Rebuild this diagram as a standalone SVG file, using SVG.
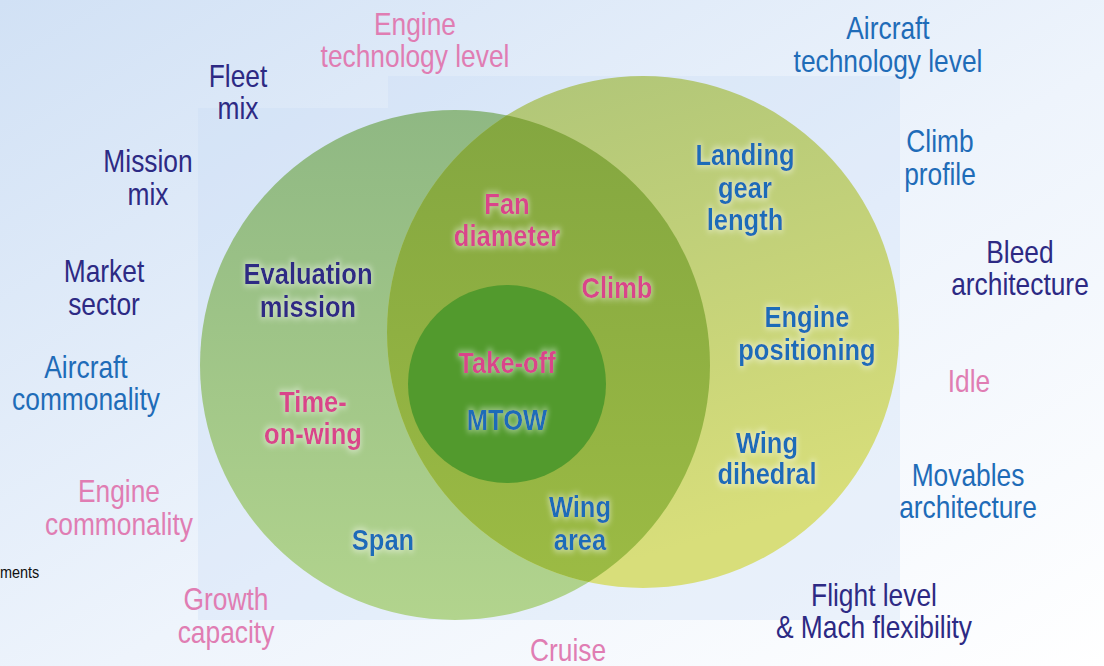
<svg xmlns="http://www.w3.org/2000/svg" width="1104" height="666" viewBox="0 0 1104 666">
  <style>
    .out { font-family: "Liberation Sans", Arial, sans-serif; font-size: 31px; text-anchor: middle; }
    .in { font-family: "Liberation Sans", Arial, sans-serif; font-size: 29px; font-weight: bold; text-anchor: middle; filter: url(#glow); }
    .navy { fill: #2d2a84; }
    .blue { fill: #1f6cb8; }
    .pink { fill: #e07db3; }
    .rose { fill: #d9448a; }
  </style>
  <defs>
    <linearGradient id="bg" x1="0" y1="0" x2="1" y2="1">
      <stop offset="0" stop-color="#d1e1f5"/>
      <stop offset="0.55" stop-color="#eef4fc"/>
      <stop offset="1" stop-color="#ffffff"/>
    </linearGradient>
    <linearGradient id="gLeft" x1="0" y1="0" x2="0" y2="1">
      <stop offset="0" stop-color="#8fb883"/>
      <stop offset="1" stop-color="#b2d48d"/>
    </linearGradient>
    <linearGradient id="gRight" x1="0" y1="0" x2="0.3" y2="1">
      <stop offset="0" stop-color="#adc478"/>
      <stop offset="1" stop-color="#d8de7a"/>
    </linearGradient>
    <linearGradient id="gBoth" x1="0" y1="0" x2="0" y2="1">
      <stop offset="0" stop-color="#82a540"/>
      <stop offset="1" stop-color="#9cbb44"/>
    </linearGradient>
    <clipPath id="clipLeft">
      <circle cx="455" cy="365" r="255"/>
    </clipPath>
    <filter id="glow" x="-20%" y="-40%" width="140%" height="180%">
      <feMorphology in="SourceAlpha" operator="dilate" radius="1.5" result="fat"/>
      <feGaussianBlur in="fat" stdDeviation="3" result="soft"/>
      <feFlood flood-color="#ffffff" flood-opacity="0.45"/>
      <feComposite in2="soft" operator="in" result="halo"/>
      <feMerge>
        <feMergeNode in="halo"/>
        <feMergeNode in="SourceGraphic"/>
      </feMerge>
    </filter>
  </defs>

  <!-- backdrop -->
  <rect width="1104" height="666" fill="url(#bg)"/>
  <path d="M198,108 H388 V76 H900 V620 H198 Z" fill="#c6dbf6" opacity="0.3"/>

  <!-- circles -->
  <g id="circle-left">
    <circle cx="455" cy="365" r="255" fill="url(#gLeft)"/>
  </g>
  <g id="circle-right">
    <circle cx="643" cy="332" r="256" fill="url(#gRight)"/>
  </g>
  <g id="overlap">
    <circle cx="643" cy="332" r="256" fill="url(#gBoth)" clip-path="url(#clipLeft)"/>
  </g>
  <g id="circle-core">
    <circle cx="507" cy="384" r="99" fill="#529a2d"/>
  </g>

  <!-- connectors: none in this figure -->
  <g id="connectors"/>

  <!-- outer factors (condensed horizontally about each label's centre) -->
  <g id="engine-technology" class="out pink" transform="matrix(0.85 0 0 1 62.25 0)"><text x="415" y="35">Engine</text><text x="415" y="67">technology level</text></g>
  <g id="aircraft-technology" class="out blue" transform="matrix(0.85 0 0 1 133.2 0)"><text x="888" y="39">Aircraft</text><text x="888" y="72">technology level</text></g>
  <g id="fleet-mix" class="out navy" transform="matrix(0.85 0 0 1 35.7 0)"><text x="238" y="87">Fleet</text><text x="238" y="119">mix</text></g>
  <g id="mission-mix" class="out navy" transform="matrix(0.85 0 0 1 22.2 0)"><text x="148" y="172">Mission</text><text x="148" y="205">mix</text></g>
  <g id="climb-profile" class="out blue" transform="matrix(0.85 0 0 1 141 0)"><text x="940" y="152">Climb</text><text x="940" y="185">profile</text></g>
  <g id="bleed-architecture" class="out navy" transform="matrix(0.85 0 0 1 153 0)"><text x="1020" y="263">Bleed</text><text x="1020" y="295">architecture</text></g>
  <g id="market-sector" class="out navy" transform="matrix(0.85 0 0 1 15.6 0)"><text x="104" y="282">Market</text><text x="104" y="315">sector</text></g>
  <g id="aircraft-commonality" class="out blue" transform="matrix(0.85 0 0 1 12.9 0)"><text x="86" y="378">Aircraft</text><text x="86" y="410">commonality</text></g>
  <g id="idle" class="out pink" transform="matrix(0.85 0 0 1 145.35 0)"><text x="969" y="392">Idle</text></g>
  <g id="engine-commonality" class="out pink" transform="matrix(0.85 0 0 1 17.85 0)"><text x="119" y="502">Engine</text><text x="119" y="535">commonality</text></g>
  <g id="requirements" transform="matrix(0.85 0 0 1 0 0)"><text x="0" y="578" font-family="Liberation Sans, Arial, sans-serif" font-size="17" fill="#111111">ments</text></g>
  <g id="growth-capacity" class="out pink" transform="matrix(0.85 0 0 1 33.9 0)"><text x="226" y="610">Growth</text><text x="226" y="643">capacity</text></g>
  <g id="cruise" class="out pink" transform="matrix(0.85 0 0 1 85.2 0)"><text x="568" y="661">Cruise</text></g>
  <g id="movables-architecture" class="out blue" transform="matrix(0.85 0 0 1 145.2 0)"><text x="968" y="486">Movables</text><text x="968" y="518">architecture</text></g>
  <g id="flight-level" class="out navy" transform="matrix(0.85 0 0 1 131.1 0)"><text x="874" y="606">Flight level</text><text x="874" y="638">&amp; Mach flexibility</text></g>

  <!-- inner design parameters -->
  <g id="evaluation-mission" class="in navy" transform="matrix(0.88 0 0 1 36.96 0)"><text x="308" y="284">Evaluation</text><text x="308" y="317">mission</text></g>
  <g id="time-on-wing" class="in rose" transform="matrix(0.88 0 0 1 37.56 0)"><text x="313" y="412">Time-</text><text x="313" y="444">on-wing</text></g>
  <g id="fan-diameter" class="in rose" transform="matrix(0.88 0 0 1 60.84 0)"><text x="507" y="214">Fan</text><text x="507" y="246">diameter</text></g>
  <g id="climb" class="in rose" transform="matrix(0.88 0 0 1 74.04 0)"><text x="617" y="298">Climb</text></g>
  <g id="take-off" class="in rose" transform="matrix(0.88 0 0 1 60.84 0)"><text x="507" y="373">Take-off</text></g>
  <g id="mtow" class="in blue" transform="matrix(0.88 0 0 1 60.84 0)"><text x="507" y="430">MTOW</text></g>
  <g id="landing-gear" class="in blue" transform="matrix(0.88 0 0 1 89.4 0)"><text x="745" y="165">Landing</text><text x="745" y="198">gear</text><text x="745" y="230">length</text></g>
  <g id="engine-positioning" class="in blue" transform="matrix(0.88 0 0 1 96.84 0)"><text x="807" y="327">Engine</text><text x="807" y="360">positioning</text></g>
  <g id="wing-dihedral" class="in blue" transform="matrix(0.88 0 0 1 92.04 0)"><text x="767" y="453">Wing</text><text x="767" y="484">dihedral</text></g>
  <g id="wing-area" class="in blue" transform="matrix(0.88 0 0 1 69.6 0)"><text x="580" y="517">Wing</text><text x="580" y="550">area</text></g>
  <g id="span" class="in blue" transform="matrix(0.88 0 0 1 45.96 0)"><text x="383" y="550">Span</text></g>
</svg>
